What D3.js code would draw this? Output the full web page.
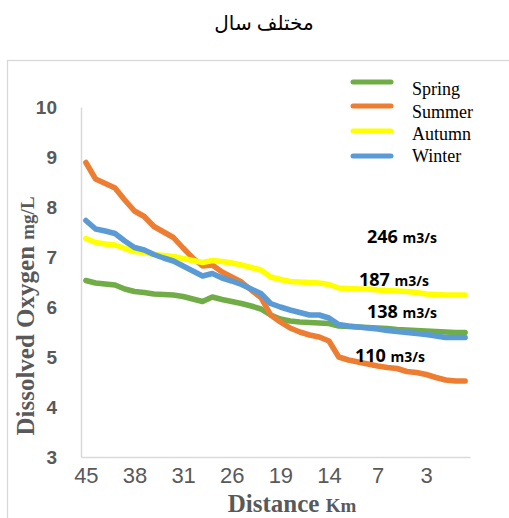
<!DOCTYPE html>
<html>
<head>
<meta charset="utf-8">
<script src="https://cdn.jsdelivr.net/npm/d3@7"></script>
<style>
  html, body { margin: 0; padding: 0; background: #fff; }
  svg { display: block; }
</style>
</head>
<body>
<svg id="chart" width="509" height="518"></svg>
<script>
const distances = ["45","44","43","41","40","38","37","35","34","32",
                   "31","30","29","28","27","26","25","23","22","20",
                   "19","18","17","16","15","14","13","11","10","8",
                   "7","6","5","4.5","4","3","2.5","2","1","0"];
const tickLabels = ["45","38","31","26","19","14","7","3"];
const yTicks = [3,4,5,6,7,8,9,10];

const spring = [6.53,6.48,6.46,6.44,6.36,6.31,6.29,6.26,6.25,6.24,
                6.21,6.16,6.11,6.20,6.15,6.11,6.07,6.02,5.96,5.84,
                5.76,5.72,5.70,5.69,5.68,5.67,5.62,5.61,5.60,5.59,
                5.58,5.57,5.55,5.54,5.53,5.52,5.51,5.50,5.49,5.49];
const summer = [8.89,8.56,8.47,8.38,8.14,7.92,7.81,7.61,7.50,7.39,
                7.18,6.98,6.82,6.84,6.70,6.60,6.50,6.34,6.19,5.84,
                5.70,5.58,5.50,5.44,5.40,5.32,5.00,4.94,4.90,4.86,
                4.82,4.79,4.77,4.71,4.69,4.65,4.59,4.54,4.52,4.52];
const autumn = [7.37,7.29,7.26,7.24,7.17,7.11,7.09,7.05,7.03,7.01,
                6.97,6.93,6.89,6.93,6.91,6.88,6.84,6.79,6.74,6.60,
                6.55,6.51,6.50,6.49,6.48,6.45,6.38,6.37,6.36,6.36,
                6.34,6.33,6.32,6.31,6.29,6.26,6.25,6.24,6.24,6.24];
const winter = [7.73,7.56,7.52,7.47,7.32,7.19,7.14,7.05,6.98,6.92,
                6.82,6.72,6.62,6.67,6.58,6.52,6.45,6.36,6.27,6.07,
                6.00,5.94,5.89,5.84,5.84,5.78,5.65,5.62,5.60,5.58,
                5.56,5.53,5.51,5.49,5.47,5.45,5.42,5.39,5.39,5.39];

const seriesNames = ["Spring","Summer","Autumn","Winter"];
const seriesValues = [spring, summer, autumn, winter];
const seriesColors = ["#70AD47","#ED7D31","#FFFF00","#5B9BD5"];

const flowLabels = ["246","187","138","110"];
const flowUnit = "m3/s";
const flowPos = [{x:367,y:243},{x:359,y:286},{x:367,y:318},{x:355,y:362}];

const svg = d3.select("#chart");

// outer chart border
svg.append("rect")
  .attr("x", 7.5).attr("y", 60.5)
  .attr("width", 530).attr("height", 520)
  .attr("fill", "none").attr("stroke", "#d9d9d9").attr("stroke-width", 1.3);

// title
svg.append("text")
  .attr("x", 264).attr("y", 30)
  .attr("text-anchor", "middle")
  .attr("font-family", "'Times New Roman', 'Liberation Serif', 'DejaVu Sans', serif")
  .attr("font-size", 20)
  .attr("fill", "#000")
  .attr("direction", "rtl")
  .text("مختلف سال");

const x = d3.scalePoint().domain(distances).range([81, 470]).padding(0.5);
const y = d3.scaleLinear().domain([3, 10]).range([457, 107]);

// axes
const yAxis = svg.append("g").attr("transform", "translate(81,0)")
  .call(d3.axisLeft(y).tickValues(yTicks).tickSize(0).tickPadding(24).tickFormat(d3.format("d")));
yAxis.select(".domain").attr("stroke", "#d9d9d9").attr("stroke-width", 1.5);
yAxis.selectAll("text")
  .attr("font-family", "'Liberation Sans', Arial, sans-serif")
  .attr("font-size", 19).attr("font-weight", "bold").attr("fill", "#595959")
  .attr("dy", "0.36em");

const xAxis = svg.append("g").attr("transform", "translate(0,457)")
  .call(d3.axisBottom(x).tickValues(distances.filter(d => tickLabels.includes(d))).tickSize(0).tickPadding(10));
xAxis.select(".domain").attr("stroke", "#d9d9d9").attr("stroke-width", 1.5);
xAxis.selectAll("text")
  .attr("font-family", "'Liberation Sans', Arial, sans-serif")
  .attr("font-size", 22).attr("fill", "#595959")
  .attr("dy", "0.71em");

// axis titles
const yt = svg.append("text")
  .attr("transform", "translate(34,316) rotate(-90)")
  .attr("text-anchor", "middle")
  .attr("font-family", "'Liberation Serif', 'Times New Roman', serif")
  .attr("font-weight", "bold").attr("fill", "#595959");
yt.append("tspan").attr("font-size", 25).text("Dissolved Oxygen ");
yt.append("tspan").attr("font-size", 19).text("mg/L");

const xt = svg.append("text")
  .attr("x", 292).attr("y", 512)
  .attr("text-anchor", "middle")
  .attr("font-family", "'Liberation Serif', 'Times New Roman', serif")
  .attr("font-weight", "bold").attr("fill", "#595959");
xt.append("tspan").attr("font-size", 25).text("Distance ");
xt.append("tspan").attr("font-size", 19).text("Km");

// lines
const line = d3.line()
  .x((d, i) => x(distances[i]))
  .y(d => y(d));

seriesValues.forEach((vals, k) => {
  svg.append("path")
    .datum(vals)
    .attr("d", line)
    .attr("fill", "none")
    .attr("stroke", seriesColors[k])
    .attr("stroke-width", 5.5)
    .attr("stroke-linejoin", "round")
    .attr("stroke-linecap", "round");
});

// legend
const legendLineY = [82, 106, 131, 156];
const legendTextY = [95, 118, 140, 162];
seriesNames.forEach((name, k) => {
  svg.append("line")
    .attr("x1", 353).attr("x2", 391)
    .attr("y1", legendLineY[k]).attr("y2", legendLineY[k])
    .attr("stroke", seriesColors[k]).attr("stroke-width", 5)
    .attr("stroke-linecap", "round");
  svg.append("text")
    .attr("x", 412).attr("y", legendTextY[k])
    .attr("font-family", "'Liberation Serif', 'Times New Roman', serif")
    .attr("font-size", 18).attr("fill", "#000")
    .text(name);
});

// flow annotations
flowLabels.forEach((lab, k) => {
  const t = svg.append("text")
    .attr("x", flowPos[k].x).attr("y", flowPos[k].y)
    .attr("font-family", "'Open Sans', sans-serif")
    .attr("font-weight", "bold").attr("fill", "#000");
  t.append("tspan").attr("font-size", 18).text(lab + " ");
  t.append("tspan").attr("font-size", 14).text(flowUnit);
});
</script>
</body>
</html>
